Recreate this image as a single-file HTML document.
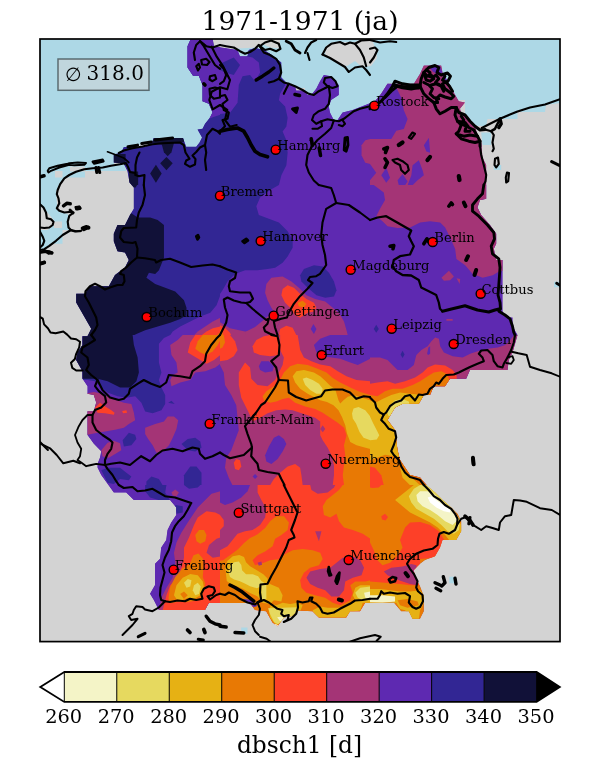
<!DOCTYPE html>
<html lang="de"><head><meta charset="utf-8"><title>1971-1971 (ja)</title>
<style>html,body{margin:0;padding:0;background:#fff}svg{display:block}text{font-family:"DejaVu Serif","Liberation Serif",serif;fill:#000}</style>
</head><body>
<svg width="600" height="780" viewBox="0 0 600 780">
<rect width="600" height="780" fill="#fff"/>
<defs><clipPath id="ax"><rect x="40" y="39" width="520" height="602.6"/></clipPath><clipPath id="de"><path d="M190.5 39.5 L187.5 46.2 L187.5 67.5 L193 75.8 L198.8 75.8 L202.5 85 L202.5 101.2 L208.8 103.8 L212.5 112.5 L210 117.5 L205 123.8 L202.5 128.8 L197.5 129.5 L202 137.5 L199.5 142.5 L196.2 146.8 L186.2 146.8 L183 138 L153.8 138 L152.5 141.2 L145 147 L123.8 147 L121.2 152.5 L113.8 154.5 L113.8 162.5 L123.8 163.8 L127.5 171.2 L129.5 182.5 L133.8 187.5 L133.8 208.8 L130 215 L125 225 L117.5 225 L113.8 233.8 L113.8 241.2 L117.5 251.2 L125 252.5 L128.8 260 L125 267.5 L115 275 L108.8 286.2 L90 286.2 L85 293.8 L76.2 293.8 L76.2 302.5 L81.2 311.2 L86.2 320 L91.2 328.8 L87.5 336.2 L82.5 336.2 L82.5 345 L77.5 352.5 L76.2 360 L82.5 371.2 L82.5 378.8 L87.5 386.2 L87.5 393.8 L93.8 395 L96.2 402.5 L93.8 411.2 L87.5 411.2 L87.5 435 L93.8 443.8 L101.2 451.2 L100 457.5 L97.5 463.8 L97.5 467.5 L101.2 475 L107.5 483.8 L113.8 492.5 L126.2 492.5 L133.8 500 L170 500 L176.2 507.5 L176.2 506.2 L176.2 515 L171.2 522.5 L167.5 530 L166.2 540 L161.2 547.5 L160 558.8 L155 563.8 L155 585 L150 593.8 L153.8 600 L158.8 610 L205 610 L208.8 603 L241.2 603 L248.8 603 L250 603 L255 610 L266.2 611.2 L272.5 622.5 L277.5 626.2 L283.8 617.5 L292 616 L298 610.5 L312.5 611.2 L318.8 617.5 L346.2 617.5 L350 611.2 L360 611.2 L365 603 L365 603 L393.8 602.5 L401.2 611.2 L408.8 611.2 L412.5 618.8 L420 618.8 L423.8 611.2 L423.8 596.2 L420 586.2 L415 577.5 L413.8 570 L420 563.8 L425 560 L435 556.2 L440 547.5 L442.5 540 L445 540 L456.2 540 L461.2 531.2 L461.2 521.2 L457.5 513.8 L451.2 507.5 L442.5 500 L435 492.5 L427.5 486.2 L420 477.5 L410 475 L405 467.5 L400 460 L397.5 450 L396.2 440 L395 430 L387.5 420 L391.2 413.8 L395 407.5 L402.5 403.8 L418.8 403.8 L423.8 395 L430 395 L433.8 386.2 L445 386.2 L450 378.8 L466.2 378.8 L470 370 L507.5 370 L508.8 360 L512.5 352.5 L515 343.8 L517.5 335 L512.5 326.2 L512.5 317.5 L506.2 317.5 L502.5 311.2 L502.5 260 L496.2 260 L493.8 248.8 L496.2 243.8 L496.2 233.8 L490 225 L481.2 215 L477.5 207.5 L480 200 L481.2 200 L486.2 198.8 L486.2 165 L482.5 157.5 L481.2 142.5 L477.5 135 L475 126.2 L467.5 117.5 L461.2 112.5 L460 108.8 L465 102.5 L458.8 101.2 L453.8 92.5 L450 85 L446.2 78.8 L442.5 72.5 L441.2 65.5 L423.8 65.5 L420 73.8 L413.8 83.8 L410 83.8 L387.5 83.8 L381.2 93.8 L375 101.2 L352.5 110 L342.5 112.5 L337.5 120 L333.8 120 L330 112.5 L328.8 106.2 L331.2 100 L338.8 95 L338.8 85 L336.2 82.5 L331.2 76.2 L323.8 75 L320 81.2 L316.2 88.8 L311.2 95 L307.5 95 L305 90.5 L296.2 90.5 L295 86.2 L287.5 83.8 L281.2 77.5 L281.2 62.5 L275 57.5 L270 53.8 L263.8 50 L255 48 L248.8 50 L247.5 56.2 L240 56.2 L237.5 50 L221.2 47.5 L213.8 46.2 L212.5 37.5 L190.5 37.5Z"/></clipPath></defs>
<g clip-path="url(#ax)">
<rect x="40" y="39" width="520" height="602.6" fill="#d3d3d3"/>
<path d="M40 39 L220 39 L220 150 L183 150 L183 141 L150 141 L125 150 L114 157 L114 164 L125 165 L126 171 L85 171 L85 177.5 L65 177.5 L58.8 185 L56 192 L57.5 210 L61 212.5 L67.5 213.8 L69.5 217.5 L67.5 222.5 L69.5 230 L62.5 230 L62.5 243.8 L50 243.8 L45 250 L40 250Z" fill="#add8e6"/>
<path d="M213 39 L560 39 L560 103 L546 105 L545 112 L517.5 112 L517.5 119 L487.5 119 L486 126 L465 126 L465 100 L400 100 L345 125 L325 125 L280 100 L250 65 L213 65Z" fill="#add8e6"/>
<path d="M481.2 132.5 L491.2 132.5 L491.2 145 L482.5 145Z" fill="#add8e6"/>
<path d="M493.8 165 L501.2 165 L501.2 170 L493.8 170Z" fill="#add8e6"/>
<path d="M449.3 576.7 L454 576.7 L454 583.3 L449.3 583.3Z" fill="#add8e6"/>
<path d="M554 281.7 L560 281.7 L560 287.3 L554 287.3Z" fill="#add8e6"/>
<path d="M241.2 627.5 L247.5 627.5 L247.5 633.8 L241.2 633.8Z" fill="#add8e6"/>
<path d="M40 205 L47.5 212.5 L53.8 220 L53.8 225 L47.5 230 L40 230Z" fill="#d3d3d3"/>
<path d="M55 171 L62.5 171 L62.5 177.5 L55 177.5Z" fill="#d3d3d3"/>
<path d="M70 166.5 L85 166.5 L85 171.5 L70 171.5Z" fill="#d3d3d3"/>
<path d="M54 221.5 L62 221.5 L62 228 L54 228Z" fill="#d3d3d3"/>
<path d="M213 39 L280 39 L280 48.5 L270 47.5 L262.5 44 L257.5 47.5 L213 50Z" fill="#d3d3d3"/>
<path d="M325 54 L326 46 L332 42.5 L355 42 L360 39.5 L372 39.5 L376 50 L377 58 L371 66 L362 67 L355 61 L347 66 L340 65 L332 60Z" fill="#d3d3d3"/>
<path d="M295 88 L305 88 L305 92 L295 92Z" fill="#d3d3d3"/>
<g clip-path="url(#de)">
<path d="M190.5 39.5 L187.5 46.2 L187.5 67.5 L193 75.8 L198.8 75.8 L202.5 85 L202.5 101.2 L208.8 103.8 L212.5 112.5 L210 117.5 L205 123.8 L202.5 128.8 L197.5 129.5 L202 137.5 L199.5 142.5 L196.2 146.8 L186.2 146.8 L183 138 L153.8 138 L152.5 141.2 L145 147 L123.8 147 L121.2 152.5 L113.8 154.5 L113.8 162.5 L123.8 163.8 L127.5 171.2 L129.5 182.5 L133.8 187.5 L133.8 208.8 L130 215 L125 225 L117.5 225 L113.8 233.8 L113.8 241.2 L117.5 251.2 L125 252.5 L128.8 260 L125 267.5 L115 275 L108.8 286.2 L90 286.2 L85 293.8 L76.2 293.8 L76.2 302.5 L81.2 311.2 L86.2 320 L91.2 328.8 L87.5 336.2 L82.5 336.2 L82.5 345 L77.5 352.5 L76.2 360 L82.5 371.2 L82.5 378.8 L87.5 386.2 L87.5 393.8 L93.8 395 L96.2 402.5 L93.8 411.2 L87.5 411.2 L87.5 435 L93.8 443.8 L101.2 451.2 L100 457.5 L97.5 463.8 L97.5 467.5 L101.2 475 L107.5 483.8 L113.8 492.5 L126.2 492.5 L133.8 500 L170 500 L176.2 507.5 L176.2 506.2 L176.2 515 L171.2 522.5 L167.5 530 L166.2 540 L161.2 547.5 L160 558.8 L155 563.8 L155 585 L150 593.8 L153.8 600 L158.8 610 L205 610 L208.8 603 L241.2 603 L248.8 603 L250 603 L255 610 L266.2 611.2 L272.5 622.5 L277.5 626.2 L283.8 617.5 L292 616 L298 610.5 L312.5 611.2 L318.8 617.5 L346.2 617.5 L350 611.2 L360 611.2 L365 603 L365 603 L393.8 602.5 L401.2 611.2 L408.8 611.2 L412.5 618.8 L420 618.8 L423.8 611.2 L423.8 596.2 L420 586.2 L415 577.5 L413.8 570 L420 563.8 L425 560 L435 556.2 L440 547.5 L442.5 540 L445 540 L456.2 540 L461.2 531.2 L461.2 521.2 L457.5 513.8 L451.2 507.5 L442.5 500 L435 492.5 L427.5 486.2 L420 477.5 L410 475 L405 467.5 L400 460 L397.5 450 L396.2 440 L395 430 L387.5 420 L391.2 413.8 L395 407.5 L402.5 403.8 L418.8 403.8 L423.8 395 L430 395 L433.8 386.2 L445 386.2 L450 378.8 L466.2 378.8 L470 370 L507.5 370 L508.8 360 L512.5 352.5 L515 343.8 L517.5 335 L512.5 326.2 L512.5 317.5 L506.2 317.5 L502.5 311.2 L502.5 260 L496.2 260 L493.8 248.8 L496.2 243.8 L496.2 233.8 L490 225 L481.2 215 L477.5 207.5 L480 200 L481.2 200 L486.2 198.8 L486.2 165 L482.5 157.5 L481.2 142.5 L477.5 135 L475 126.2 L467.5 117.5 L461.2 112.5 L460 108.8 L465 102.5 L458.8 101.2 L453.8 92.5 L450 85 L446.2 78.8 L442.5 72.5 L441.2 65.5 L423.8 65.5 L420 73.8 L413.8 83.8 L410 83.8 L387.5 83.8 L381.2 93.8 L375 101.2 L352.5 110 L342.5 112.5 L337.5 120 L333.8 120 L330 112.5 L328.8 106.2 L331.2 100 L338.8 95 L338.8 85 L336.2 82.5 L331.2 76.2 L323.8 75 L320 81.2 L316.2 88.8 L311.2 95 L307.5 95 L305 90.5 L296.2 90.5 L295 86.2 L287.5 83.8 L281.2 77.5 L281.2 62.5 L275 57.5 L270 53.8 L263.8 50 L255 48 L248.8 50 L247.5 56.2 L240 56.2 L237.5 50 L221.2 47.5 L213.8 46.2 L212.5 37.5 L190.5 37.5Z" fill="#5e29b1"/>
<svg x="70" y="35" width="150.3" height="150.3" viewBox="0 0 600 600" preserveAspectRatio="none">
<rect width="600" height="600" fill="#322694"/>
<path d="M460 0 L600 0 L600 318 L570 328 L540 340 L460 340Z" fill="#5e29b1"/>
<path d="M330 410 L455 410 L455 428 L400 428 L380 440 L330 430Z" fill="#111138"/>
<path d="M170 475 L222 475 L222 520 L170 520Z" fill="#111138"/>
<path d="M385 487 L410 512 L385 540 L360 512Z" fill="#111138"/>
<path d="M364 428 L416 428 L405 468 L390 484 L375 468Z" fill="#111138"/>
<path d="M343 518 L366 553 L343 590 L320 553Z" fill="#111138"/>
<path d="M235 545 L272 545 L272 600 L235 600Z" fill="#111138"/>
</svg>
<svg x="220" y="35" width="150.3" height="150.3" viewBox="0 0 600 600" preserveAspectRatio="none">
<rect width="600" height="600" fill="#5e29b1"/>
<path d="M0 315 L40 310 L70 270 L75 200 L90 165 L120 160 L140 185 L160 150 L155 110 L130 90 L105 85 L105 40 L260 40 L260 200 L240 235 L235 260 L260 285 L270 330 L265 365 L250 385 L265 420 L270 470 L265 520 L245 560 L235 600 L0 600Z" fill="#322694"/>
<path d="M0 115 L55 90 L80 120 L55 160 L20 150 L0 140Z" fill="#322694"/>
<path d="M600 415 L580 420 L565 440 L565 480 L580 510 L600 515Z" fill="#a43476"/>
</svg>
<svg x="370" y="35" width="150.3" height="150.3" viewBox="0 0 600 600" preserveAspectRatio="none">
<rect width="600" height="600" fill="#a43476"/>
<path d="M0 150 L65 190 L100 200 L125 250 L135 300 L150 335 L135 375 L105 382 L85 415 L0 415Z" fill="#5e29b1"/>
<path d="M235 125 L275 118 L290 150 L270 158 L250 145Z" fill="#5e29b1"/>
<path d="M290 160 L320 158 L318 185 L295 182Z" fill="#5e29b1"/>
<path d="M215 440 L235 410 L240 470 L225 465Z" fill="#5e29b1"/>
<path d="M170 520 L195 500 L210 540 L215 560 L190 580 L170 600 L150 600 L165 560Z" fill="#5e29b1"/>
<path d="M0 515 L25 550 L0 580Z" fill="#5e29b1"/>
<path d="M45 560 L65 530 L80 570 L65 590Z" fill="#5e29b1"/>
<path d="M110 580 L130 555 L150 585 L140 600 L115 600Z" fill="#5e29b1"/>
</svg>
<svg x="70" y="185" width="150.3" height="150.3" viewBox="0 0 600 600" preserveAspectRatio="none">
<rect width="600" height="600" fill="#322694"/>
<path d="M0 110 L240 110 L270 130 L320 130 L350 140 L375 160 L375 290 L355 340 L340 355 L315 350 L305 370 L340 395 L380 410 L420 425 L455 460 L465 490 L465 520 L440 535 L400 550 L350 565 L300 580 L265 595 L255 600 L0 600Z" fill="#111138"/>
<path d="M240 0 L268 0 L262 10 L246 10Z" fill="#111138"/>
<path d="M600 440 L585 480 L560 510 L520 525 L480 545 L440 565 L410 585 L400 600 L600 600Z" fill="#5e29b1"/>
<path d="M600 530 L570 545 L540 565 L510 585 L495 600 L600 600Z" fill="#a43476"/>
<path d="M600 565 L570 572 L545 585 L525 600 L600 600Z" fill="#fd4028"/>
<path d="M585 600 L600 588 L600 600Z" fill="#e87904"/>
</svg>
<svg x="220" y="185" width="150.3" height="150.3" viewBox="0 0 600 600" preserveAspectRatio="none">
<rect width="600" height="600" fill="#5e29b1"/>
<path d="M0 0 L235 0 L200 20 L160 50 L145 85 L155 120 L195 135 L235 150 L270 185 L290 220 L290 250 L270 285 L250 310 L220 330 L190 335 L150 340 L100 340 L60 355 L30 385 L10 420 L0 435Z" fill="#322694"/>
<path d="M320 360 L335 335 L375 320 L410 325 L435 350 L455 385 L465 420 L455 445 L420 450 L385 440 L350 410 L325 385Z" fill="#322694"/>
<path d="M180 430 L185 395 L205 370 L250 365 L285 385 L315 410 L345 440 L380 455 L420 465 L450 490 L475 510 L495 545 L505 580 L510 600 L235 600 L225 570 L240 545 L225 520 L205 490 L190 460Z" fill="#a43476"/>
<path d="M0 548 L40 572 L100 585 L150 592 L190 600 L0 600Z" fill="#a43476"/>
<path d="M100 587 L140 567 L173 540 L190 525 L225 520 L240 545 L225 570 L235 600 L100 600Z" fill="#a43476"/>
<path d="M245 440 L250 415 L270 400 L295 410 L320 435 L345 455 L375 470 L385 490 L375 505 L350 510 L320 530 L300 520 L280 490 L260 470Z" fill="#fd4028"/>
<path d="M310 470 L330 462 L345 475 L335 488 L315 485Z" fill="#e87904"/>
<path d="M235 600 L240 575 L265 562 L290 570 L305 600Z" fill="#fd4028"/>
<path d="M0 560 L20 570 L40 590 L45 600 L0 600Z" fill="#fd4028"/>
<path d="M0 575 L10 585 L12 600 L0 600Z" fill="#e87904"/>
<path d="M362 575 L373 555 L385 575 L375 595Z" fill="#5e29b1"/>
</svg>
<svg x="370" y="185" width="150.3" height="150.3" viewBox="0 0 600 600" preserveAspectRatio="none">
<rect width="600" height="600" fill="#5e29b1"/>
<path d="M15 0 L55 30 L60 60 L40 95 L25 125 L50 145 L70 165 L110 172 L160 170 L200 150 L240 145 L280 150 L300 170 L320 210 L340 255 L345 295 L380 320 L410 355 L450 370 L490 360 L515 345 L540 340 L600 340 L600 0Z" fill="#a43476"/>
<path d="M285 370 L315 342 L335 365 L320 380 L295 382Z" fill="#a43476"/>
<path d="M345 372 L360 375 L358 395Z" fill="#a43476"/>
<path d="M305 535 L330 535 L330 542 L305 542Z" fill="#a43476"/>
<path d="M15 575 L25 558 L35 575 L25 590Z" fill="#322694"/>
</svg>
<svg x="70" y="335" width="150.3" height="150.3" viewBox="0 0 600 600" preserveAspectRatio="none">
<rect width="600" height="600" fill="#5e29b1"/>
<path d="M0 0 L400 0 L375 12 L355 35 L355 110 L365 150 L355 180 L365 210 L380 240 L380 275 L365 300 L330 312 L300 305 L285 270 L260 245 L225 250 L190 245 L150 230 L120 205 L100 185 L70 180 L0 180Z" fill="#322694"/>
<path d="M0 0 L250 0 L255 40 L270 90 L275 150 L265 185 L240 210 L200 210 L150 185 L110 175 L50 175 L0 175Z" fill="#111138"/>
<path d="M600 0 L450 0 L430 20 L400 40 L405 80 L425 110 L430 150 L410 160 L400 180 L405 205 L440 190 L480 180 L500 150 L540 145 L580 130 L600 115Z" fill="#a43476"/>
<path d="M500 0 L480 30 L470 70 L495 85 L520 100 L545 115 L575 100 L600 80 L600 0Z" fill="#fd4028"/>
<path d="M530 0 L510 25 L500 55 L520 70 L545 80 L570 65 L590 40 L600 20 L600 0Z" fill="#e87904"/>
<path d="M60 235 L95 228 L130 235 L170 255 L215 270 L245 275 L255 310 L260 340 L235 355 L215 370 L180 378 L140 385 L100 392 L60 400Z" fill="#a43476"/>
<path d="M100 290 L120 270 L140 285 L165 300 L178 310 L175 318 L140 312 L110 310Z" fill="#fd4028"/>
<path d="M208 303 L225 300 L228 310 L212 312Z" fill="#fd4028"/>
<path d="M300 370 L340 355 L375 345 L390 325 L415 325 L432 340 L425 375 L410 410 L395 440 L370 465 L345 470 L330 440 L312 415 L300 395Z" fill="#a43476"/>
<path d="M125 460 L150 430 L175 422 L200 432 L205 460 L180 475 L155 490 L130 485Z" fill="#a43476"/>
<path d="M210 420 L235 390 L260 398 L265 415 L245 440 L215 445Z" fill="#322694"/>
<path d="M445 435 L470 415 L500 410 L520 425 L525 450 L500 465 L470 460Z" fill="#322694"/>
<path d="M392 270 L405 262 L418 275Z" fill="#322694"/>
<path d="M125 540 L150 530 L200 530 L225 550 L245 565 L235 580 L200 575 L175 595 L150 590Z" fill="#322694"/>
<path d="M305 585 L325 565 L355 575 L370 600 L305 600Z" fill="#322694"/>
<path d="M455 560 L480 525 L505 525 L525 550 L525 600 L455 600Z" fill="#322694"/>
</svg>
<svg x="220" y="335" width="150.3" height="150.3" viewBox="0 0 600 600" preserveAspectRatio="none">
<rect width="600" height="600" fill="#a43476"/>
<path d="M0 120 L15 150 L20 200 L45 240 L65 280 L70 330 L75 380 L60 420 L45 460 L25 490 L20 530 L35 570 L50 600 L0 600Z" fill="#5e29b1"/>
<path d="M375 40 L400 15 L440 0 L600 0 L600 95 L580 105 L550 120 L520 110 L480 95 L445 90 L410 85 L385 70Z" fill="#5e29b1"/>
<path d="M155 125 L165 105 L195 105 L215 125 L210 145 L180 150 L160 140Z" fill="#5e29b1"/>
<path d="M180 480 L195 445 L215 410 L235 400 L255 415 L265 435 L250 465 L230 495 L205 515 L185 505Z" fill="#5e29b1"/>
<path d="M130 565 L140 555 L150 565 L140 575Z" fill="#5e29b1"/>
<path d="M0 0 L40 0 L60 25 L70 60 L55 85 L30 100 L0 105Z" fill="#fd4028"/>
<path d="M0 0 L15 0 L20 30 L10 50 L0 55Z" fill="#e87904"/>
<path d="M130 45 L145 20 L175 5 L200 0 L235 0 L240 40 L235 80 L200 85 L160 80 L135 70Z" fill="#fd4028"/>
<path d="M240 0 L310 0 L315 30 L320 60 L335 90 L365 105 L400 118 L440 125 L470 145 L505 165 L545 180 L600 185 L600 600 L450 600 L455 560 L455 520 L445 480 L430 450 L410 420 L400 400 L400 345 L380 330 L350 320 L320 310 L290 300 L260 297 L225 300 L190 312 L160 330 L130 345 L115 310 L100 280 L85 250 L75 200 L75 150 L100 110 L120 130 L125 175 L150 200 L190 205 L220 180 L235 150 L250 120 L255 90 L240 60Z" fill="#fd4028"/>
<path d="M170 245 L185 225 L215 205 L240 180 L255 150 L280 125 L310 115 L350 120 L390 135 L425 150 L450 172 L480 190 L520 210 L560 228 L600 240 L600 600 L495 600 L490 560 L495 520 L500 480 L495 440 L505 400 L495 370 L470 350 L440 330 L410 310 L380 295 L340 285 L300 270 L275 250 L250 255 L225 265 L200 270 L175 260Z" fill="#e87904"/>
<path d="M290 165 L305 145 L335 140 L375 150 L400 165 L420 183 L440 203 L460 217 L473 260 L480 273 L493 260 L510 247 L533 240 L567 250 L600 260 L600 455 L570 447 L545 440 L520 427 L507 393 L500 360 L487 327 L473 300 L453 280 L427 267 L400 260 L380 250 L350 235 L320 215 L300 190Z" fill="#e6b114"/>
<path d="M330 175 L345 170 L370 180 L395 195 L410 215 L405 235 L385 235 L360 220 L340 200Z" fill="#e6d95f"/>
<path d="M527 313 L533 293 L553 287 L580 300 L600 325 L600 420 L573 410 L557 387 L543 353 L530 333Z" fill="#e6d95f"/>
<path d="M400 375 L410 360 L420 375 L410 388Z" fill="#a43476"/>
<path d="M55 510 L65 495 L80 500 L85 525 L75 540 L60 535Z" fill="#fd4028"/>
<path d="M200 600 L215 575 L240 550 L270 525 L300 515 L320 530 L325 560 L330 600Z" fill="#fd4028"/>
</svg>
<svg x="370" y="335" width="150.3" height="150.3" viewBox="0 0 600 600" preserveAspectRatio="none">
<rect width="600" height="600" fill="#5e29b1"/>
<path d="M0 90 L40 90 L70 100 L95 125 L110 140 L150 140 L175 120 L185 80 L205 60 L230 45 L245 25 L260 10 L275 15 L280 45 L295 70 L330 85 L370 90 L400 75 L430 65 L470 55 L510 50 L540 40 L560 20 L575 0 L600 0 L600 600 L0 600Z" fill="#a43476"/>
<path d="M228 75 L233 50 L240 45 L240 75 L232 80Z" fill="#5e29b1"/>
<path d="M122 78 L130 63 L138 78 L130 92Z" fill="#322694"/>
<path d="M0 195 L30 190 L70 185 L100 195 L140 185 L180 170 L210 150 L230 130 L260 118 L300 122 L330 140 L345 160 L350 200 L600 200 L600 600 L0 600Z" fill="#fd4028"/>
<path d="M0 240 L30 245 L60 225 L90 215 L130 215 L170 200 L200 185 L230 165 L255 150 L285 145 L305 155 L315 175 L320 200 L600 200 L600 600 L0 600Z" fill="#e87904"/>
<path d="M0 262 L25 268 L50 255 L85 240 L120 230 L160 235 L220 240 L220 300 L130 480 L100 490 L60 480 L30 495 L0 500Z" fill="#e6b114"/>
<path d="M100 260 L130 255 L155 265 L160 290 L110 300 L100 325 L75 325 L65 300 L85 275Z" fill="#e6d95f"/>
<path d="M0 325 L13 353 L27 380 L37 400 L27 417 L0 420Z" fill="#e6d95f"/>
<path d="M0 500 L30 490 L60 478 L100 485 L130 500 L200 600 L0 600Z" fill="#e87904"/>
<path d="M0 525 L20 530 L45 560 L55 600 L0 600Z" fill="#fd4028"/>
<path d="M120 530 L150 555 L200 600 L160 600 L130 570Z" fill="#e6b114"/>
</svg>
<svg x="70" y="485" width="150.3" height="150.3" viewBox="0 0 600 600" preserveAspectRatio="none">
<rect width="600" height="600" fill="#5e29b1"/>
<path d="M300 0 L300 25 L320 50 L360 62 L400 62 L380 30 L385 0Z" fill="#322694"/>
<path d="M420 80 L450 85 L450 110 L425 115Z" fill="#322694"/>
<path d="M455 0 L475 15 L510 10 L520 0Z" fill="#322694"/>
<path d="M405 30 L420 18 L435 30 L425 45 L410 42Z" fill="#a43476"/>
<path d="M355 500 L365 450 L385 410 L410 370 L420 310 L415 270 L425 230 L445 190 L470 150 L490 120 L510 90 L540 60 L565 35 L600 25 L600 600 L355 600Z" fill="#a43476"/>
<path d="M370 500 L385 440 L400 400 L430 370 L445 330 L455 290 L455 250 L475 210 L495 160 L510 130 L545 105 L580 110 L600 120 L600 600 L370 600Z" fill="#fd4028"/>
<path d="M545 270 L555 240 L585 215 L600 210 L600 285 L570 290Z" fill="#a43476"/>
<path d="M500 200 L515 180 L535 180 L545 200 L540 225 L520 235 L505 225Z" fill="#e87904"/>
<path d="M393 452 L400 407 L420 367 L447 335 L478 315 L493 280 L513 273 L530 293 L533 327 L530 367 L540 393 L533 420 L527 447 L500 462 L467 468 L433 466 L400 472Z" fill="#e87904"/>
<path d="M415 440 L425 400 L450 370 L480 355 L510 360 L530 385 L535 410 L520 440 L495 455 L470 450 L445 460 L425 455Z" fill="#e6b114"/>
<path d="M455 390 L470 375 L485 380 L480 405 L465 410Z" fill="#e6d95f"/>
<path d="M495 400 L510 390 L522 405 L515 435 L500 440 L490 420Z" fill="#e6d95f"/>
<path d="M440 435 L455 425 L470 440 L455 455Z" fill="#e87904"/>
</svg>
<svg x="220" y="485" width="150.3" height="150.3" viewBox="0 0 600 600" preserveAspectRatio="none">
<rect width="600" height="600" fill="#fd4028"/>
<path d="M0 0 L150 0 L150 30 L165 60 L185 95 L180 130 L160 160 L130 180 L100 185 L70 195 L50 220 L30 245 L0 260Z" fill="#a43476"/>
<path d="M0 0 L120 0 L110 25 L85 50 L50 70 L20 80 L0 70Z" fill="#5e29b1"/>
<path d="M0 120 L15 140 L15 165 L0 180Z" fill="#fd4028"/>
<path d="M360 0 L365 20 L390 35 L430 30 L455 10 L460 0Z" fill="#a43476"/>
<path d="M380 185 L405 185 L395 225Z" fill="#a43476"/>
<path d="M410 85 L425 60 L450 40 L475 20 L490 0 L600 0 L600 215 L570 195 L530 180 L495 170 L475 145 L465 115 L440 130 L415 120Z" fill="#e87904"/>
<path d="M0 302 L12 300 L40 280 L72 256 L96 232 L120 212 L150 197 L180 172 L200 145 L225 125 L255 125 L275 150 L270 180 L245 200 L220 215 L210 245 L180 265 L150 280 L130 300 L140 320 L175 310 L200 300 L240 295 L260 275 L290 260 L330 255 L370 260 L400 270 L410 295 L395 320 L360 330 L335 350 L320 380 L325 410 L345 430 L380 440 L420 450 L450 470 L480 480 L520 460 L530 430 L520 400 L540 385 L580 385 L600 380 L600 600 L0 600Z" fill="#e87904"/>
<path d="M150 310 L165 305 L168 318 L155 322Z" fill="#a43476"/>
<path d="M345 370 L360 345 L400 335 L440 330 L465 310 L490 290 L530 285 L560 300 L575 330 L565 360 L530 370 L500 385 L495 420 L475 445 L445 445 L420 420 L390 410 L360 395Z" fill="#a43476"/>
<path d="M24 356 L21 329 L29 303 L51 284 L77 279 L96 287 L104 308 L120 324 L147 340 L173 356 L189 372 L195 393 L235 410 L250 440 L245 465 L215 460 L200 475 L170 470 L150 445 L120 431 L93 415 L67 404 L40 393 L27 383Z" fill="#e6b114"/>
<path d="M35 351 L40 324 L56 308 L75 305 L85 319 L88 340 L104 356 L131 356 L152 364 L165 383 L185 395 L185 455 L165 455 L165 404 L147 412 L120 404 L99 393 L77 383 L56 377 L40 367Z" fill="#e6d95f"/>
<path d="M195 500 L200 530 L225 560 L250 545 L275 535 L300 525 L320 505 L330 480 L310 470 L280 475 L250 470 L225 480 L205 475Z" fill="#e6b114"/>
<path d="M192 492 L304 488 L312 504 L288 528 L256 532 L232 556 L216 548 L200 516Z" fill="#e6d95f"/>
<path d="M228 528 L280 520 L272 536 L240 544Z" fill="#f4f4c7"/>
<path d="M218 554 L232 560 L224 568Z" fill="#ffffff"/>
<path d="M92 455 L120 458 L150 482 L135 488 L110 474Z" fill="#5e29b1"/>
<path d="M370 500 L375 520 L400 530 L500 530 L520 510 L560 500 L570 470 L600 470 L600 400 L560 400 L540 410 L530 440 L540 460 L510 480 L470 490 L430 490 L400 485Z" fill="#e6b114"/>
<path d="M540 430 L560 410 L600 405 L600 460 L570 460 L550 450Z" fill="#e6d95f"/>
<path d="M575 430 L600 425 L600 455 L580 450Z" fill="#f4f4c7"/>
</svg>
<svg x="370" y="485" width="150.3" height="150.3" viewBox="0 0 600 600" preserveAspectRatio="none">
<rect width="600" height="600" fill="#e87904"/>
<path d="M0 0 L45 0 L35 10 L10 12 L0 10Z" fill="#fd4028"/>
<path d="M45 125 L60 115 L72 128 L62 142 L48 138Z" fill="#fd4028"/>
<path d="M120 220 L140 170 L160 150 L200 148 L240 160 L275 185 L300 225 L280 260 L260 290 L200 295 L200 400 L160 400 L120 395 L60 390 L0 385 L0 230 L15 260 L30 300 L50 320 L80 310 L110 280 L130 250Z" fill="#fd4028"/>
<path d="M55 345 L85 330 L130 325 L165 315 L185 320 L190 360 L190 400 L160 395 L130 385 L100 375 L70 360Z" fill="#a43476"/>
<path d="M100 60 L125 40 L150 20 L175 0 L260 0 L365 160 L365 190 L345 220 L320 225 L300 200 L270 170 L240 150 L200 130 L160 110 L130 85Z" fill="#e6b114"/>
<path d="M155 45 L175 15 L200 0 L270 0 L360 140 L355 180 L335 195 L310 185 L285 160 L255 135 L220 115 L185 95 L165 70Z" fill="#e6d95f"/>
<path d="M185 40 L200 25 L230 25 L260 40 L300 80 L340 110 L350 140 L330 160 L300 145 L270 120 L240 100 L210 85 L190 65Z" fill="#f4f4c7"/>
<path d="M230 50 L245 45 L270 65 L300 85 L320 100 L320 110 L295 105 L265 90 L240 70Z" fill="#ffffff"/>
<path d="M0 415 L40 415 L80 420 L120 425 L160 425 L200 420 L215 440 L215 470 L200 500 L195 535 L165 535 L140 500 L120 495 L105 470 L0 470Z" fill="#e6b114"/>
<path d="M0 440 L50 440 L100 445 L100 465 L50 470 L0 468Z" fill="#f4f4c7"/>
<path d="M110 460 L150 455 L190 465 L195 480 L150 490 L120 480Z" fill="#e87904"/>
</svg>
</g>
<path d="M135 173 L130 172 L128 167 L126 163 L120 164.3 L111 165.8 L102.7 167.5 L92.7 168.3 L84.3 169.2 L76 171.7 L69.3 175 L64.3 178.3 L60.2 184.2 L57.7 190 L56.8 194.2 L58.5 198.3 L59.3 203.3 L56.8 208.3 L59.3 210.8 L64.3 212.5 L71 211.7 L73.5 212.5 L69.3 215.8 L67.7 221.7 L68.5 227.5 L71 230 L76 231.3 L80.2 231.3" fill="none" stroke="#000" stroke-width="2.13" stroke-linejoin="round" stroke-linecap="round"/>
<path d="M71 230 L62.7 235 L56 240.8 L49.3 245.8 L44.3 249.2 L40 250" fill="none" stroke="#000" stroke-width="2.13" stroke-linejoin="round" stroke-linecap="round"/>
<path d="M40 204.2 L43.5 207.5 L46 212.5 L46.8 218.3 L51 219.2 L53.5 221.7 L52.7 225 L49.3 227.5 L44.3 228 L40 227.5" fill="none" stroke="#000" stroke-width="2.13" stroke-linejoin="round" stroke-linecap="round"/>
<path d="M40 231.7 L42.7 236.7 L44.3 240.8 L42.7 245 L40 247.5" fill="none" stroke="#000" stroke-width="2.13" stroke-linejoin="round" stroke-linecap="round"/>
<path d="M63.5 205.8 L66.8 203.3 L70.2 203.7" fill="none" stroke="#000" stroke-width="3.55" stroke-linejoin="round" stroke-linecap="round"/>
<path d="M82.7 228.3 L86 227 L88.5 227.7" fill="none" stroke="#000" stroke-width="3.976" stroke-linejoin="round" stroke-linecap="round"/>
<path d="M96 167.5 L96.8 172.5" fill="none" stroke="#000" stroke-width="3.124" stroke-linejoin="round" stroke-linecap="round"/>
<path d="M98.5 167.5 L99.7 172.5" fill="none" stroke="#000" stroke-width="3.124" stroke-linejoin="round" stroke-linecap="round"/>
<path d="M40.3 263.7 L44.3 262.5" fill="none" stroke="#000" stroke-width="3.55" stroke-linejoin="round" stroke-linecap="round"/>
<path d="M40.3 176.7 L44 175.8" fill="none" stroke="#000" stroke-width="3.55" stroke-linejoin="round" stroke-linecap="round"/>
<path d="M195 60 L193.8 52.5 L196.2 45 L200 41.2 L206.2 46.2 L212.5 47.5 L220 45" fill="none" stroke="#000" stroke-width="2.13" stroke-linejoin="round" stroke-linecap="round"/>
<path d="M200 41.2 L203.8 46.2 L207.5 52.5 L211.2 58.8 L215 65 L220 68.8" fill="none" stroke="#000" stroke-width="2.13" stroke-linejoin="round" stroke-linecap="round"/>
<path d="M203.8 83.8 L205 85" fill="none" stroke="#000" stroke-width="3.55" stroke-linejoin="round" stroke-linecap="round"/>
<path d="M128 146.8 L137.5 145.2" fill="none" stroke="#000" stroke-width="3.124" stroke-linejoin="round" stroke-linecap="round"/>
<path d="M141.8 143.5 L151.2 142" fill="none" stroke="#000" stroke-width="3.124" stroke-linejoin="round" stroke-linecap="round"/>
<path d="M155.5 140 L163.8 139 L172.5 138" fill="none" stroke="#000" stroke-width="3.124" stroke-linejoin="round" stroke-linecap="round"/>
<path d="M107.5 151.8 L116.2 155 L123.8 158 L128.8 162.5" fill="none" stroke="#000" stroke-width="1.704" stroke-linejoin="round" stroke-linecap="round"/>
<path d="M118.8 153 L123.8 150.5 L132.5 148.2 L142.5 146.5 L152.5 144.2 L162.5 143.2 L180 142.5 L183.8 145 L185.5 152.5 L189.5 158.8 L186.2 160.5 L185 163.8 L190 166.8 L195 164.5 L195.5 159.2 L192.5 155.5 L196.2 152 L200 147.5 L205 145 L206.2 152.5 L205 160 L206.2 170" fill="none" stroke="#000" stroke-width="2.13" stroke-linejoin="round" stroke-linecap="round"/>
<path d="M205 145 L207 135 L212.5 128.8 L217.5 131.2 L220 133.8" fill="none" stroke="#000" stroke-width="2.13" stroke-linejoin="round" stroke-linecap="round"/>
<path d="M139.5 152.5 L137 157.5 L135.5 165 L135.5 175" fill="none" stroke="#000" stroke-width="2.13" stroke-linejoin="round" stroke-linecap="round"/>
<path d="M220 45 L226.2 46.2 L233.8 47.5 L240 51.2 L245 53.8 L250 52 L255 48.8 L258.8 45" fill="none" stroke="#000" stroke-width="2.13" stroke-linejoin="round" stroke-linecap="round"/>
<path d="M258.8 45 L263.8 52.5 L270 55 L276.2 58.8 L280 65 L281.2 72.5 L278.8 78.8 L273.8 81.2 L268.8 82.5" fill="none" stroke="#000" stroke-width="2.13" stroke-linejoin="round" stroke-linecap="round"/>
<path d="M256.2 80 L262.5 76.2 L268.8 72 L273.8 68" fill="none" stroke="#000" stroke-width="3.408" stroke-linejoin="round" stroke-linecap="round"/>
<path d="M278.8 78.8 L283.8 82.5 L288.8 83.8 L286.2 88.8 L283.8 93.8" fill="none" stroke="#000" stroke-width="2.13" stroke-linejoin="round" stroke-linecap="round"/>
<path d="M288.8 83.8 L295 86.2 L302.5 90 L308.8 93.8 L313.8 95 L318.8 91.2 L323.8 88.8 L328.8 86.2" fill="none" stroke="#000" stroke-width="2.13" stroke-linejoin="round" stroke-linecap="round"/>
<path d="M328.8 86.2 L330 95 L328.8 103.8 L325 108.8 L318.8 111.2 L313.8 115 L312 120 L316.2 123.8 L321.2 121.2 L327.5 119.2 L333.8 120.5" fill="none" stroke="#000" stroke-width="2.13" stroke-linejoin="round" stroke-linecap="round"/>
<path d="M321.2 121.2 L322 126.2 L317.5 128.8 L312.5 128.8" fill="none" stroke="#000" stroke-width="2.13" stroke-linejoin="round" stroke-linecap="round"/>
<path d="M333.8 120.5 L338.8 121.2 L343.8 118.8 L348.8 115 L353.8 111.2 L360 108.8 L370 106.2" fill="none" stroke="#000" stroke-width="2.13" stroke-linejoin="round" stroke-linecap="round"/>
<path d="M342.5 120 L345 123.8 L342.5 126.2 L338.8 125" fill="none" stroke="#000" stroke-width="2.13" stroke-linejoin="round" stroke-linecap="round"/>
<path d="M333.8 120.5 L331.2 128 L325 133.8 L317.5 140 L311.2 147.5 L307.5 155 L306.2 165 L308.8 172.5 L313.8 180.5 L318.8 185" fill="none" stroke="#000" stroke-width="2.13" stroke-linejoin="round" stroke-linecap="round"/>
<path d="M220 131.2 L227.5 129.5 L237.5 128 L243.8 131.2 L247.5 137.5 L251.2 145 L255 151.2 L260 154.5 L267.5 156.8" fill="none" stroke="#000" stroke-width="3.692" stroke-linejoin="round" stroke-linecap="round"/>
<path d="M220 65 L223.8 68.8 L226.2 75 L223.8 81.2 L220 83.8" fill="none" stroke="#000" stroke-width="2.13" stroke-linejoin="round" stroke-linecap="round"/>
<path d="M220 96.2 L225 95 L227.5 100 L222.5 103.8 L223.8 110 L228.8 112.5 L227.5 118.8 L222.5 120 L225 126.2 L220 131.2" fill="none" stroke="#000" stroke-width="2.13" stroke-linejoin="round" stroke-linecap="round"/>
<path d="M295 94.5 L299.5 95.5" fill="none" stroke="#000" stroke-width="3.55" stroke-linejoin="round" stroke-linecap="round"/>
<path d="M311.2 138.8 L312.5 145" fill="none" stroke="#000" stroke-width="3.55" stroke-linejoin="round" stroke-linecap="round"/>
<path d="M319.2 148 L320.5 155.5" fill="none" stroke="#000" stroke-width="3.55" stroke-linejoin="round" stroke-linecap="round"/>
<path d="M286.2 41.2 L291.2 43.8 L295 50 L300 53" fill="none" stroke="#000" stroke-width="2.84" stroke-linejoin="round" stroke-linecap="round"/>
<path d="M305 53 L307.5 47.5 L311.2 42.5 L316.2 40" fill="none" stroke="#000" stroke-width="2.13" stroke-linejoin="round" stroke-linecap="round"/>
<path d="M307.5 53 L309.5 60" fill="none" stroke="#000" stroke-width="2.13" stroke-linejoin="round" stroke-linecap="round"/>
<path d="M322.5 54.5 L326.2 47.5 L331.2 43.8 L340 42 L345 44.5 L350 42.5 L355 43.8 L361.2 40.5 L370 40" fill="none" stroke="#000" stroke-width="2.13" stroke-linejoin="round" stroke-linecap="round"/>
<path d="M322.5 54.5 L330 58 L337.5 62.5 L345 67 L348.8 72 L355 67.5 L362.5 66.2 L366.2 70 L370 75" fill="none" stroke="#000" stroke-width="2.13" stroke-linejoin="round" stroke-linecap="round"/>
<path d="M355 43.8 L360 50 L363.8 57.5 L366.2 66.2" fill="none" stroke="#000" stroke-width="2.13" stroke-linejoin="round" stroke-linecap="round"/>
<path d="M370 48.8 L375 47.5 L377.5 50 L373.8 57.5 L370 62.5" fill="none" stroke="#000" stroke-width="2.13" stroke-linejoin="round" stroke-linecap="round"/>
<path d="M370 40 L380 42.5 L390 41.2 L396.2 42" fill="none" stroke="#000" stroke-width="2.13" stroke-linejoin="round" stroke-linecap="round"/>
<path d="M370 108.8 L375 106.2 L381.2 101.2 L387.5 93.8 L392.5 86.2 L395 81.2 L402.5 83.8 L410 85 L420 85" fill="none" stroke="#000" stroke-width="2.982" stroke-linejoin="round" stroke-linecap="round"/>
<path d="M385 97.5 L391.2 91.2 L397.5 86.2 L407.5 87 L418.8 88" fill="none" stroke="#000" stroke-width="2.982" stroke-linejoin="round" stroke-linecap="round"/>
<path d="M393.8 85 L402.5 87.5 L411.2 88.8 L420 87" fill="none" stroke="#000" stroke-width="3.408" stroke-linejoin="round" stroke-linecap="round"/>
<path d="M420 86.2 L421.2 78.8 L423.8 72.5 L428.8 67.5 L435 65.5 L438.8 67.5 L437 72.5 L441.2 75 L447.5 73 L450.5 76.2 L448 81.2 L442.5 83.8 L445 88.8 L450 92.5 L453.8 96.2 L451.2 98.8 L445 97 L440 95 L436.2 98.8 L437.5 102.5" fill="none" stroke="#000" stroke-width="2.982" stroke-linejoin="round" stroke-linecap="round"/>
<path d="M431.2 85 L436.2 83.8 L441.2 86.2 L443.8 91.2" fill="none" stroke="#000" stroke-width="2.982" stroke-linejoin="round" stroke-linecap="round"/>
<path d="M420 86.2 L423.8 93.8 L428.8 98.8 L433.8 102.5 L437.5 102.5" fill="none" stroke="#000" stroke-width="2.982" stroke-linejoin="round" stroke-linecap="round"/>
<path d="M433.8 102.5 L436.2 108.8 L440 113.8 L445 111.2 L451.2 107.5 L456.2 107.5" fill="none" stroke="#000" stroke-width="2.982" stroke-linejoin="round" stroke-linecap="round"/>
<path d="M456.2 107.5 L458.8 112.5 L465 115 L470 121.2 L475 126.2 L480 130 L485 129.5" fill="none" stroke="#000" stroke-width="2.982" stroke-linejoin="round" stroke-linecap="round"/>
<path d="M456.2 107.5 L455 115 L457.5 121.2 L461.2 125" fill="none" stroke="#000" stroke-width="2.982" stroke-linejoin="round" stroke-linecap="round"/>
<path d="M457.5 121.2 L465 122.5 L468.8 127.5 L473.8 130" fill="none" stroke="#000" stroke-width="2.982" stroke-linejoin="round" stroke-linecap="round"/>
<path d="M461.2 125 L458.8 131.2 L456.2 133.8 L463.8 136.2 L470 135 L477.5 136.2" fill="none" stroke="#000" stroke-width="2.982" stroke-linejoin="round" stroke-linecap="round"/>
<path d="M456.2 133.8 L461.2 138.8 L468.8 141.2 L475 142.5 L480 141.2" fill="none" stroke="#000" stroke-width="2.982" stroke-linejoin="round" stroke-linecap="round"/>
<path d="M473.8 130 L477.5 136.2 L480 141.2 L480 146.2" fill="none" stroke="#000" stroke-width="2.982" stroke-linejoin="round" stroke-linecap="round"/>
<path d="M481.8 128 L490 123.8 L500 118.8 L510 114.5 L516.8 111.8 L530 107.5 L545 104.5 L560 99.2" fill="none" stroke="#000" stroke-width="2.13" stroke-linejoin="round" stroke-linecap="round"/>
<path d="M485 129.5 L491.2 131.2 L493.8 135 L492.5 142.5 L493.8 148.8 L492.5 151.2" fill="none" stroke="#000" stroke-width="2.13" stroke-linejoin="round" stroke-linecap="round"/>
<path d="M500 118.8 L501.2 123.8 L498.8 127.5" fill="none" stroke="#000" stroke-width="3.408" stroke-linejoin="round" stroke-linecap="round"/>
<path d="M480 146.2 L481.2 155 L483.8 165 L486.2 175 L485.5 181.2 L483.8 185" fill="none" stroke="#000" stroke-width="2.13" stroke-linejoin="round" stroke-linecap="round"/>
<path d="M398.8 145 L402.5 142.5" fill="none" stroke="#000" stroke-width="4.26" stroke-linejoin="round" stroke-linecap="round"/>
<path d="M383.8 148.8 L387.5 147.5 L385.5 152.5" fill="none" stroke="#000" stroke-width="3.55" stroke-linejoin="round" stroke-linecap="round"/>
<path d="M385 158.8 L387.5 162.5 L385 167.5" fill="none" stroke="#000" stroke-width="3.55" stroke-linejoin="round" stroke-linecap="round"/>
<path d="M427.5 160 L430 157" fill="none" stroke="#000" stroke-width="4.26" stroke-linejoin="round" stroke-linecap="round"/>
<path d="M458.8 176.2 L459.5 180" fill="none" stroke="#000" stroke-width="4.26" stroke-linejoin="round" stroke-linecap="round"/>
<path d="M551.7 161.7 L559.3 165.3" fill="none" stroke="#000" stroke-width="3.124" stroke-linejoin="round" stroke-linecap="round"/>
<path d="M135.5 175 L138.8 176.2 L144.5 175 L143.8 185" fill="none" stroke="#000" stroke-width="2.13" stroke-linejoin="round" stroke-linecap="round"/>
<path d="M143.8 185 L145 195 L142.5 205 L138.8 212.5 L137 220 L136.2 227.5 L123.8 228 L121.2 231.2 L120 237.5 L123.8 242 L132.5 243 L135.5 242 L137.5 248.8 L137 257.5 L131.2 262.5 L126.2 267.5 L121.2 271.2 L120 273.8 L123.8 275 L124.5 281.2 L122.5 285 L117.5 285 L110 287.5 L105 289.5 L100 286.2 L95 283.8 L90 286.2 L85.5 291.2 L85 296.2 L88.8 302.5 L92.5 310 L96.2 317.5 L97.5 325 L95 330 L91.2 335" fill="none" stroke="#000" stroke-width="2.13" stroke-linejoin="round" stroke-linecap="round"/>
<path d="M137 257.5 L145 258.2 L155 260 L156.2 262.5 L161.2 260 L170 258.8 L180 262.5 L191.2 267 L202.5 265.5 L212.5 264.5 L220 266.2" fill="none" stroke="#000" stroke-width="2.13" stroke-linejoin="round" stroke-linecap="round"/>
<path d="M70 230 L75 231.5 L81.2 230.8" fill="none" stroke="#000" stroke-width="2.13" stroke-linejoin="round" stroke-linecap="round"/>
<path d="M83.8 229.5 L88 227.5" fill="none" stroke="#000" stroke-width="3.55" stroke-linejoin="round" stroke-linecap="round"/>
<path d="M70 210 L73 213" fill="none" stroke="#000" stroke-width="2.84" stroke-linejoin="round" stroke-linecap="round"/>
<path d="M318.8 185 L325 186.5 L331.2 188 L333.8 195 L336.2 203" fill="none" stroke="#000" stroke-width="2.13" stroke-linejoin="round" stroke-linecap="round"/>
<path d="M336.2 203 L348.8 205 L360 212.5 L370 220" fill="none" stroke="#000" stroke-width="2.13" stroke-linejoin="round" stroke-linecap="round"/>
<path d="M336.2 203 L326.2 208.8 L322.5 222.5 L321.2 235 L322.5 245 L325 255 L326.2 265 L320 273.8 L316.2 276.2 L310 277 L308 280 L312.5 283 L307.5 288.8 L300 296.2 L293.8 303.8 L288.8 312.5 L287 317.5 L281.2 318.8 L273.8 321.2 L275 327.5 L277.5 335" fill="none" stroke="#000" stroke-width="2.13" stroke-linejoin="round" stroke-linecap="round"/>
<path d="M220 266.2 L227.5 269.5 L236.2 272.5 L235 278 L230 281.2 L228.8 286.2 L230 291.2 L240 292.5 L250 292.5 L253 298.8 L250 302 L246.2 303 L241.2 302.5 L233.8 300.5 L227.5 297.5 L223.8 299.5 L225 307.5 L227.5 315 L226.2 322.5 L222.5 330 L220 335" fill="none" stroke="#000" stroke-width="2.13" stroke-linejoin="round" stroke-linecap="round"/>
<path d="M246.2 303 L252.5 308.8 L260 315 L266.2 320 L268.8 318.8 L267.5 323.8 L263.8 327.5 L265 331.2 L270 333.8 L273.8 335" fill="none" stroke="#000" stroke-width="2.13" stroke-linejoin="round" stroke-linecap="round"/>
<path d="M370 220 L377.5 217.5 L386.2 216.2 L395 221.2 L403.8 226.2 L411.2 230.5 L408.8 236.2 L411.2 241.2 L413.8 246.2 L410 254.5 L400 256.2 L393.8 260 L392.5 266.2 L396.2 271.2 L402.5 275 L411.2 275.5 L418.8 280 L421.2 287.5 L428.8 291.2 L436.2 295 L438.8 302.5 L440 308.8 L442.5 311.2" fill="none" stroke="#000" stroke-width="2.272" stroke-linejoin="round" stroke-linecap="round"/>
<path d="M442.5 311.2 L452.5 308.8 L465 305.8 L470 307.5 L477.5 310 L488.8 312 L495 310 L500 308.8" fill="none" stroke="#000" stroke-width="3.124" stroke-linejoin="round" stroke-linecap="round"/>
<path d="M483.8 185 L482.5 193.8 L477.5 198.8 L472.5 205 L472.5 211.2 L478.8 216.2 L487.5 225 L493.8 232.5 L494.5 238.8 L491.2 246.2 L492.5 253.8 L498.8 258.8 L500 267.5 L499.5 275 L498.8 285 L498 295 L500 302.5 L500.5 308.8 L498.8 311.2 L505 315 L510 318.8 L512.5 326.2 L513.8 332.5 L515 335" fill="none" stroke="#000" stroke-width="2.84" stroke-linejoin="round" stroke-linecap="round"/>
<path d="M448.8 206.2 L451.2 203 L452.5 204.5" fill="none" stroke="#000" stroke-width="3.55" stroke-linejoin="round" stroke-linecap="round"/>
<path d="M463.8 202.5 L465.5 206.2" fill="none" stroke="#000" stroke-width="3.976" stroke-linejoin="round" stroke-linecap="round"/>
<path d="M466.2 260 L468 256.2" fill="none" stroke="#000" stroke-width="3.976" stroke-linejoin="round" stroke-linecap="round"/>
<path d="M474.5 275 L476.2 270" fill="none" stroke="#000" stroke-width="3.976" stroke-linejoin="round" stroke-linecap="round"/>
<path d="M423.8 243.8 L427 238.8 L428.8 242" fill="none" stroke="#000" stroke-width="3.55" stroke-linejoin="round" stroke-linecap="round"/>
<path d="M390 246.2 L393.8 245.5 L393 248.8" fill="none" stroke="#000" stroke-width="3.55" stroke-linejoin="round" stroke-linecap="round"/>
<path d="M91.2 335 L95 340 L88.8 343.8 L82.5 347.5 L81.2 352.5 L87.5 357.5 L88.8 365 L86.2 370 L91.2 375 L97.5 380 L95 386.2 L98.8 391.2 L105 396.2 L106.2 402.5 L101.2 407.5 L95 410 L92.5 415 L92.5 422.5 L96.2 430 L102.5 435 L110 440 L112.5 442.5 L111.2 448.8 L107.5 453.8 L105 460 L105 465" fill="none" stroke="#000" stroke-width="2.13" stroke-linejoin="round" stroke-linecap="round"/>
<path d="M97.5 380 L102.5 390 L110 397.5 L118.8 400 L123.8 398.8 L128.8 393.8 L130 388.8 L137.5 383.8 L143.8 380 L151.2 383.8 L160 387 L166.2 382.5 L168.8 375 L180 376.2 L190 378 L192.5 371.2 L200 366.2 L205 361.2 L206.2 353.8 L211.2 345 L216.2 338.8 L220 335" fill="none" stroke="#000" stroke-width="2.13" stroke-linejoin="round" stroke-linecap="round"/>
<path d="M105 465 L111.2 463.8 L120 462.5 L130 465 L136.2 460 L141.2 456.2 L150 461.2 L156.2 455 L162.5 450.5 L172.5 448.8 L182.5 451.2 L192.5 447.5 L198.8 448.8 L200 453.8 L205 458.8 L212.5 456.2 L220 452.5" fill="none" stroke="#000" stroke-width="2.13" stroke-linejoin="round" stroke-linecap="round"/>
<path d="M105 465 L107.5 468.8 L112.5 475 L116.2 481.2 L118.8 485" fill="none" stroke="#000" stroke-width="2.13" stroke-linejoin="round" stroke-linecap="round"/>
<path d="M40.3 317.2 L42.8 318.7 L44.1 324.4 L47.9 328.2 L50.5 332.6 L55.6 333.3 L63.3 331.5 L67.2 334.6 L71 338.5 L76.2 339.2 L80 341.8 L79.2 347.4 L76.2 353.8 L74.9 359 L71 362.8 L72.3 367.9 L76.2 370.5 L82.6 370.5" fill="none" stroke="#000" stroke-width="1.988" stroke-linejoin="round" stroke-linecap="round"/>
<path d="M40.3 442.3 L44.1 446.2 L47.9 450" fill="none" stroke="#000" stroke-width="1.988" stroke-linejoin="round" stroke-linecap="round"/>
<path d="M40.8 252.1 L45.4 251.3 L51.8 253.1" fill="none" stroke="#000" stroke-width="3.408" stroke-linejoin="round" stroke-linecap="round"/>
<path d="M40.8 263.3 L44.1 262.3" fill="none" stroke="#000" stroke-width="3.408" stroke-linejoin="round" stroke-linecap="round"/>
<path d="M92.5 415 L87.5 415 L82.5 420 L78.8 426.2 L75 435 L77.5 442.5 L81.2 448.8 L80 456.2 L77.5 460 L81.2 462.5 L86.2 466.2 L91.2 465 L96.2 463.8 L105 465" fill="none" stroke="#000" stroke-width="1.846" stroke-linejoin="round" stroke-linecap="round"/>
<path d="M40 443.3 L50 448.3 L56.7 455 L63.3 463.3 L73.3 460.7 L80 463.3" fill="none" stroke="#000" stroke-width="1.988" stroke-linejoin="round" stroke-linecap="round"/>
<path d="M138.3 636.7 L145 633.3" fill="none" stroke="#000" stroke-width="3.124" stroke-linejoin="round" stroke-linecap="round"/>
<path d="M198.3 639.3 L203.3 640" fill="none" stroke="#000" stroke-width="3.124" stroke-linejoin="round" stroke-linecap="round"/>
<path d="M271.2 335 L277.5 336.2 L279.5 345 L278.8 355 L271.2 361.2 L276.2 367.5 L278.8 380" fill="none" stroke="#000" stroke-width="2.13" stroke-linejoin="round" stroke-linecap="round"/>
<path d="M278.8 380 L288 380.5 L288.8 392.5 L296.2 397 L306.2 400.5 L315 398 L321.2 396.2 L325 390.5 L332.5 389.5 L342.5 389.5 L350 392.5 L356.2 398.8 L363.8 396.2 L370 397" fill="none" stroke="#000" stroke-width="2.13" stroke-linejoin="round" stroke-linecap="round"/>
<path d="M278.8 380 L275 387.5 L270 395 L265 402.5 L261.2 405 L256.2 412.5 L250 420 L245 426.2 L247.5 433.8 L251.2 443.8 L252 447.5" fill="none" stroke="#000" stroke-width="2.13" stroke-linejoin="round" stroke-linecap="round"/>
<path d="M252 447.5 L251.2 456.2 L257.5 463.8 L258.8 470 L267.5 472 L278.8 473.8 L281.2 478.8 L284.5 485" fill="none" stroke="#000" stroke-width="2.13" stroke-linejoin="round" stroke-linecap="round"/>
<path d="M252 447.5 L243.8 455 L230 458.2 L223.8 455 L220 452.5" fill="none" stroke="#000" stroke-width="2.13" stroke-linejoin="round" stroke-linecap="round"/>
<path d="M370 397.5 L375 402.5 L376.2 407.5 L380 412.5 L383.8 414.5" fill="none" stroke="#000" stroke-width="2.13" stroke-linejoin="round" stroke-linecap="round"/>
<path d="M383.8 414.5 L386.2 412.5 L390 406.2 L395 402.5 L401.2 400.5 L405 396.2 L410 395 L415 400.5 L418.8 394.5 L422.5 395 L427.5 393.8 L430 388.8 L433.8 386.2 L436.2 382.5 L438.8 383.8 L442.5 378.8 L446.2 375 L453.8 374.5 L458.8 372.5 L463.8 370 L470 367 L477.5 363.8 L483.8 361.2 L482.5 357.5 L478.8 353.8 L481.2 350.5 L487.5 350 L492.5 355 L493.8 361.2 L497.5 366.2 L502.5 367.5 L503.8 363.8 L507.5 357.5 L511.2 350 L513.8 342.5 L515 335" fill="none" stroke="#000" stroke-width="2.13" stroke-linejoin="round" stroke-linecap="round"/>
<path d="M383.8 414.5 L381.2 420 L385 423.8 L388.8 428.8 L395 431.2 L396.2 437.5 L393.8 445 L391.2 451.2 L393.8 455 L398.8 460 L401.2 466.2 L405 472.5 L410 477 L416.2 478.8 L420 480 L423.8 485" fill="none" stroke="#000" stroke-width="2.13" stroke-linejoin="round" stroke-linecap="round"/>
<path d="M507.5 357.5 L512.5 356.2 L513.8 360 L511.2 363.8 L506.2 363" fill="none" stroke="#000" stroke-width="1.846" stroke-linejoin="round" stroke-linecap="round"/>
<path d="M473 457.5 L473.8 464.5" fill="none" stroke="#000" stroke-width="3.692" stroke-linejoin="round" stroke-linecap="round"/>
<path d="M511.7 351.7 L518.3 353.3 L526.7 355 L530 366.7 L540 370 L551.7 373.3 L560 376.7" fill="none" stroke="#000" stroke-width="1.988" stroke-linejoin="round" stroke-linecap="round"/>
<path d="M472.7 458.3 L473.3 464" fill="none" stroke="#000" stroke-width="3.408" stroke-linejoin="round" stroke-linecap="round"/>
<path d="M443.3 576.7 L445 582.7 L441.7 586" fill="none" stroke="#000" stroke-width="3.408" stroke-linejoin="round" stroke-linecap="round"/>
<path d="M455 578.3 L456 584" fill="none" stroke="#000" stroke-width="3.408" stroke-linejoin="round" stroke-linecap="round"/>
<path d="M435 582.7 L440 585" fill="none" stroke="#000" stroke-width="3.408" stroke-linejoin="round" stroke-linecap="round"/>
<path d="M436 588.3 L440.7 590.7" fill="none" stroke="#000" stroke-width="3.408" stroke-linejoin="round" stroke-linecap="round"/>
<path d="M556.7 283.3 L560 285.3" fill="none" stroke="#000" stroke-width="2.84" stroke-linejoin="round" stroke-linecap="round"/>
<path d="M118.8 485 L123.8 488 L132.5 487 L137.5 491.2 L145 490.5 L152.5 488.8 L158.8 492.5 L165 496.2 L175 497.5 L183.8 500.5 L191.2 503" fill="none" stroke="#000" stroke-width="2.13" stroke-linejoin="round" stroke-linecap="round"/>
<path d="M191.2 503 L187.5 510 L183.8 516.2 L178.8 521.2 L175 526.2 L172 532.5 L171.2 541.2 L168.8 550 L165 557.5 L162.5 565 L164.5 572.5 L162.5 580 L160.5 587.5 L160 595 L161.2 600 L165 601.2" fill="none" stroke="#000" stroke-width="2.13" stroke-linejoin="round" stroke-linecap="round"/>
<path d="M165 601.2 L170 602 L177.5 600.5 L185 601.2 L190 598.8 L196.2 600 L202.5 598.8 L201.2 593.8 L203.8 588.8 L208.8 586.2 L213.8 587.5 L215 591.2 L212.5 595 L207.5 596.2 L210 599.5 L216.2 595 L220 593.8" fill="none" stroke="#000" stroke-width="2.13" stroke-linejoin="round" stroke-linecap="round"/>
<path d="M165 601.2 L158.8 607.5 L152.5 611.2 L145 609.5 L142.5 607 L136.2 606.2 L133.8 610 L132.5 613.8 L128.8 616.2 L131.2 620 L137.5 618.8 L132.5 625 L127.5 630 L122.5 635" fill="none" stroke="#000" stroke-width="1.988" stroke-linejoin="round" stroke-linecap="round"/>
<path d="M206.2 616.2 L210 621.2 L215 623.8 L220 625" fill="none" stroke="#000" stroke-width="3.408" stroke-linejoin="round" stroke-linecap="round"/>
<path d="M187.5 630 L190 632.5" fill="none" stroke="#000" stroke-width="3.692" stroke-linejoin="round" stroke-linecap="round"/>
<path d="M203.8 629.5 L205 632.5" fill="none" stroke="#000" stroke-width="3.692" stroke-linejoin="round" stroke-linecap="round"/>
<path d="M283.8 485 L287.5 492.5 L292.5 502.5 L297.5 512.5 L295 520 L291.2 530 L293.8 535 L294.5 537.5 L288.8 540 L286.2 547.5 L281.2 557.5 L276.2 567.5 L271.2 576.2 L267.5 583.8 L260.5 584.5 L260 592.5 L261.2 600 L257.5 602.5" fill="none" stroke="#000" stroke-width="2.13" stroke-linejoin="round" stroke-linecap="round"/>
<path d="M220 593.8 L225 595 L228.8 592.5 L235 595 L240 598.8 L247.5 602.5 L255 604.5 L257.5 602.5" fill="none" stroke="#000" stroke-width="2.13" stroke-linejoin="round" stroke-linecap="round"/>
<path d="M230 585 L235 587.5 L241.2 591.2 L247.5 596.2 L253.8 601.2" fill="none" stroke="#000" stroke-width="3.408" stroke-linejoin="round" stroke-linecap="round"/>
<path d="M257.5 602.5 L263.8 600 L268.8 602.5 L273.8 606.2 L277.5 608.8 L282.5 610 L281.2 613.8 L283.8 616.2 L288.8 615 L287.5 620 L283.8 622 L291.2 618.8 L296.2 613.8 L298 607.5 L297.5 601.2 L302.5 602.5 L308.8 601.2 L310 597.5 L312.5 597.5 L311.2 601.2 L316.2 603.8 L320 607.5 L322.5 612.5 L327.5 613.8 L333.8 612.5 L340 608.8 L345 606.2 L350 603.8 L355 600.5 L362.5 600 L370 598.8" fill="none" stroke="#000" stroke-width="2.13" stroke-linejoin="round" stroke-linecap="round"/>
<path d="M257.5 602.5 L260 608.8 L258.8 615 L255 620 L252.5 625 L255 631.2 L258.8 635" fill="none" stroke="#000" stroke-width="1.988" stroke-linejoin="round" stroke-linecap="round"/>
<path d="M338.8 599.5 L342 600.5" fill="none" stroke="#000" stroke-width="3.976" stroke-linejoin="round" stroke-linecap="round"/>
<path d="M220 626.2 L226.2 627" fill="none" stroke="#000" stroke-width="3.408" stroke-linejoin="round" stroke-linecap="round"/>
<path d="M235 632.5 L243.8 633" fill="none" stroke="#000" stroke-width="3.408" stroke-linejoin="round" stroke-linecap="round"/>
<path d="M423.8 485 L428.8 490 L433.8 496.2 L440 500 L445 505 L451.2 508.8 L455 513.8 L457.5 518.8 L457 525" fill="none" stroke="#000" stroke-width="2.13" stroke-linejoin="round" stroke-linecap="round"/>
<path d="M457 525 L455 530 L448.8 533.8 L443.8 532 L439.5 533.8 L438 538.8 L437.5 545 L432.5 548.8 L423.8 550.5 L416.2 553.8 L410 558.8 L407 563.8 L410 568.8 L413.8 573.8 L417.5 581.2 L416.2 587.5 L418 591.2 L422.5 595 L423 601.2 L420 607 L416.2 608.8 L412.5 607 L408.8 602.5 L410 596.2 L405 593 L397.5 593.8 L390 592.5 L383.8 593.8 L381.2 591.2 L380 595 L377.5 598.8 L370 598.8" fill="none" stroke="#000" stroke-width="2.13" stroke-linejoin="round" stroke-linecap="round"/>
<path d="M457 525 L461.2 518.8 L466.2 517 L470 522.5 L475 526.2 L481.2 530 L486.2 526.2 L492.5 528 L498.8 530 L500 522.5 L505 516.2 L511.2 515 L512.5 507.5 L513.8 500 L520 500.5 L526.8 501.8 L540 508.2 L551.8 510 L560 515" fill="none" stroke="#000" stroke-width="1.988" stroke-linejoin="round" stroke-linecap="round"/>
<path d="M465 516.2 L470 520.5 L473 525" fill="none" stroke="#000" stroke-width="3.692" stroke-linejoin="round" stroke-linecap="round"/>
<path d="M470 517.5 L468.8 523.8" fill="none" stroke="#000" stroke-width="3.124" stroke-linejoin="round" stroke-linecap="round"/>
<path d="M405.5 573 L408 576.2" fill="none" stroke="#000" stroke-width="3.976" stroke-linejoin="round" stroke-linecap="round"/>
<path d="M426.2 70 L430 72.5 L428.8 76.2 L432.5 77.5 L436.2 75 L438.8 78.8 L435.5 82.5 L440 85" fill="none" stroke="#000" stroke-width="2.982" stroke-linejoin="round" stroke-linecap="round"/>
<path d="M445 76.2 L442.5 80 L446.2 82.5 L449.5 86.2 L452.5 91.2" fill="none" stroke="#000" stroke-width="2.982" stroke-linejoin="round" stroke-linecap="round"/>
<path d="M423.8 82.5 L428.8 85 L432.5 88.8 L430 93.8 L433.8 97.5 L438.8 98.8" fill="none" stroke="#000" stroke-width="2.982" stroke-linejoin="round" stroke-linecap="round"/>
<path d="M461.2 116.2 L463.8 120 L461.2 123.8 L466.2 126.2 L465 131.2 L470 131.2" fill="none" stroke="#000" stroke-width="2.982" stroke-linejoin="round" stroke-linecap="round"/>
<path d="M491.2 131.2 L495 128.8 L498.8 121.2" fill="none" stroke="#000" stroke-width="2.556" stroke-linejoin="round" stroke-linecap="round"/>
<path d="M350 641.7 L360 638.3 L375 635 L380.7 636.7 L376.7 640.7" fill="none" stroke="#000" stroke-width="1.988" stroke-linejoin="round" stroke-linecap="round"/>
<path d="M260 636.7 L266.7 638.7 L270.7 641.7" fill="none" stroke="#000" stroke-width="1.988" stroke-linejoin="round" stroke-linecap="round"/>
<path d="M211.7 46.7 L216.7 56.7 L223.3 66.7 L230 80 L227.3 89.3 L220 87.3 L211.7 91.7 L209.3 100 L212.7 109.3 L220 105 L227.3 110 L225 120 L230 126.7 L236.7 125" fill="none" stroke="#000" stroke-width="2.13" stroke-linejoin="round" stroke-linecap="round"/>
<path d="M47.7 170.8 L49.3 168.3 L57.7 165.8 L67.7 163.7 L69.3 163.3 L77.7 162.5 L86 163 L84.3 164.7 L74.3 165.3 L69.3 164.7 L59.3 167.5 L51 170.8 L48.5 172.5Z" fill="none" stroke="#000" stroke-width="1.988" stroke-linejoin="round"/>
<path d="M92.7 161.7 L102.7 159.7 L103.5 161.3 L94.3 163.7Z" fill="none" stroke="#000" stroke-width="2.272" stroke-linejoin="round"/>
<path d="M76 207.5 L79.3 206.7 L80.7 208.3 L77.7 209.2Z" fill="none" stroke="#000" stroke-width="2.13" stroke-linejoin="round"/>
<path d="M45.2 250.8 L49.3 251.2 L52.3 252.5 L48.5 253.7Z" fill="none" stroke="#000" stroke-width="2.13" stroke-linejoin="round"/>
<path d="M201.2 60 L206.2 58.8 L209.5 62 L207 65 L202 64.5Z" fill="none" stroke="#000" stroke-width="2.13" stroke-linejoin="round"/>
<path d="M196.2 66.2 L198.8 63.8 L200 67.5 L198 70.5Z" fill="none" stroke="#000" stroke-width="2.13" stroke-linejoin="round"/>
<path d="M210 76.2 L215 75 L216.2 78.8 L212.5 81.2 L209.5 79.5Z" fill="none" stroke="#000" stroke-width="2.13" stroke-linejoin="round"/>
<path d="M209.5 88.8 L215 87.5 L220 88.8 L220 97.5 L213.8 98.8 L210 95Z" fill="none" stroke="#000" stroke-width="2.13" stroke-linejoin="round"/>
<path d="M260 46.2 L265 42.5 L271.2 40.5 L278.8 43.8 L280.5 48.8 L276.2 51.2 L270 48.8 L265 50Z" fill="none" stroke="#000" stroke-width="2.13" stroke-linejoin="round"/>
<path d="M323.8 82.5 L325 78 L331.2 77 L335.5 81.2 L337.5 86.2 L332.5 88 L327.5 86.2Z" fill="none" stroke="#000" stroke-width="2.13" stroke-linejoin="round"/>
<path d="M292.5 109 L297.5 108 L296.2 112.5Z" fill="none" stroke="#000" stroke-width="2.84" stroke-linejoin="round"/>
<path d="M345 138 L347.5 137.5 L348 145 L346.2 151.2 L344.2 150 L344.5 145Z" fill="none" stroke="#000" stroke-width="2.84" stroke-linejoin="round"/>
<path d="M423.8 72.5 L427.5 76.2 L431.2 75 L433.8 78.8 L430 81.2 L426.2 80Z" fill="none" stroke="#000" stroke-width="2.982" stroke-linejoin="round"/>
<path d="M408.8 137.5 L412.5 132.5 L415 133.8 L411.2 138.8Z" fill="none" stroke="#000" stroke-width="2.13" stroke-linejoin="round"/>
<path d="M392.5 160 L397.5 158.8 L402.5 161.2 L407.5 165 L408.8 170 L405 173.8 L401.2 170 L400 165 L395 162.5Z" fill="none" stroke="#000" stroke-width="2.13" stroke-linejoin="round"/>
<path d="M495 158.8 L498 157.5 L498.8 163.8 L496.2 167.5 L494.5 165Z" fill="none" stroke="#000" stroke-width="2.13" stroke-linejoin="round"/>
<path d="M507 172.5 L509 173 L508.2 181.2 L506.2 182.5 L505.8 177.5Z" fill="none" stroke="#000" stroke-width="2.13" stroke-linejoin="round"/>
<path d="M196.2 236.2 L198 235 L199 237.5 L197.5 239.5Z" fill="none" stroke="#000" stroke-width="2.556" stroke-linejoin="round"/>
<path d="M75.5 207 L79.5 206.5 L80 209 L76.2 209.5Z" fill="none" stroke="#000" stroke-width="2.13" stroke-linejoin="round"/>
<path d="M242.5 241.2 L246.2 238.8 L248 240.5 L244.5 243Z" fill="none" stroke="#000" stroke-width="2.556" stroke-linejoin="round"/>
<path d="M328.8 567 L330 572.5 L331.2 575 L329.5 575.5 L328 571.2Z" fill="none" stroke="#000" stroke-width="2.556" stroke-linejoin="round"/>
<path d="M339.5 572.5 L338.8 578.8 L337 583.8 L335.5 581.2 L337 576.2Z" fill="none" stroke="#000" stroke-width="2.556" stroke-linejoin="round"/>
<path d="M388.8 579.5 L392.5 577 L396.2 578 L395 581.2 L390.5 582.5Z" fill="none" stroke="#000" stroke-width="2.556" stroke-linejoin="round"/>
<circle cx="374.3" cy="105.7" r="4.55" fill="#ff0000" stroke="#000" stroke-width="1.4"/>
<circle cx="275.7" cy="149.7" r="4.55" fill="#ff0000" stroke="#000" stroke-width="1.4"/>
<circle cx="220" cy="195.7" r="4.55" fill="#ff0000" stroke="#000" stroke-width="1.4"/>
<circle cx="260.7" cy="241" r="4.55" fill="#ff0000" stroke="#000" stroke-width="1.4"/>
<circle cx="432.7" cy="242" r="4.55" fill="#ff0000" stroke="#000" stroke-width="1.4"/>
<circle cx="350.7" cy="269.7" r="4.55" fill="#ff0000" stroke="#000" stroke-width="1.4"/>
<circle cx="480.7" cy="293.7" r="4.55" fill="#ff0000" stroke="#000" stroke-width="1.4"/>
<circle cx="146.7" cy="317" r="4.55" fill="#ff0000" stroke="#000" stroke-width="1.4"/>
<circle cx="273.7" cy="315.7" r="4.55" fill="#ff0000" stroke="#000" stroke-width="1.4"/>
<circle cx="391.7" cy="328.7" r="4.55" fill="#ff0000" stroke="#000" stroke-width="1.4"/>
<circle cx="453.7" cy="344" r="4.55" fill="#ff0000" stroke="#000" stroke-width="1.4"/>
<circle cx="321.7" cy="355" r="4.55" fill="#ff0000" stroke="#000" stroke-width="1.4"/>
<circle cx="209.7" cy="423.7" r="4.55" fill="#ff0000" stroke="#000" stroke-width="1.4"/>
<circle cx="325.7" cy="463.7" r="4.55" fill="#ff0000" stroke="#000" stroke-width="1.4"/>
<circle cx="238.8" cy="512.7" r="4.55" fill="#ff0000" stroke="#000" stroke-width="1.4"/>
<circle cx="348.7" cy="560" r="4.55" fill="#ff0000" stroke="#000" stroke-width="1.4"/>
<circle cx="173.7" cy="569.7" r="4.55" fill="#ff0000" stroke="#000" stroke-width="1.4"/>
<text x="375.9" y="105.5" font-size="13.1">Rostock</text>
<text x="277.3" y="149.5" font-size="13.1">Hamburg</text>
<text x="220.8" y="195.5" font-size="13.1">Bremen</text>
<text x="262.3" y="240.8" font-size="13.1">Hannover</text>
<text x="434.3" y="241.8" font-size="13.1">Berlin</text>
<text x="352.3" y="269.5" font-size="13.1">Magdeburg</text>
<text x="481.4" y="293.5" font-size="13.1">Cottbus</text>
<text x="148.3" y="316.8" font-size="13.1">Bochum</text>
<text x="275.3" y="315.5" font-size="13.1">Goettingen</text>
<text x="393.3" y="328.5" font-size="13.1">Leipzig</text>
<text x="455.3" y="343.8" font-size="13.1">Dresden</text>
<text x="323.3" y="354.8" font-size="13.1">Erfurt</text>
<text x="211.3" y="423.5" font-size="13.1">Frankfurt-Main</text>
<text x="327.3" y="463.5" font-size="13.1">Nuernberg</text>
<text x="240.4" y="512.5" font-size="13.1">Stuttgart</text>
<text x="350.3" y="559.8" font-size="13.1">Muenchen</text>
<text x="174.7" y="569.5" font-size="13.1">Freiburg</text>
<rect x="58" y="59" width="91" height="31.3" fill="#d3d3d3" fill-opacity="0.5" stroke="#000" stroke-opacity="0.5" stroke-width="1.5"/>
<text x="64.8" y="80.6" font-size="18.5">&#8709;</text>
<text x="86.6" y="80.3" font-size="20">318.0</text>
</g>
<rect x="40" y="39" width="520" height="602.6" fill="none" stroke="#000" stroke-width="1.7"/>
<text x="300" y="30.2" font-size="26.5" text-anchor="middle">1971-1971 (ja)</text>
<path d="M64.3 672 L40.3 686.95 L64.3 701.9Z" fill="#fff"/>
<path d="M536.6 672 L559.8 686.95 L536.6 701.9Z" fill="#000"/>
<rect x="64.3" y="672" width="52.78" height="29.9" fill="#f4f4c7"/>
<rect x="116.78" y="672" width="52.78" height="29.9" fill="#e6d95f"/>
<rect x="169.26" y="672" width="52.78" height="29.9" fill="#e6b114"/>
<rect x="221.73" y="672" width="52.78" height="29.9" fill="#e87904"/>
<rect x="274.21" y="672" width="52.78" height="29.9" fill="#fd4028"/>
<rect x="326.69" y="672" width="52.78" height="29.9" fill="#a43476"/>
<rect x="379.17" y="672" width="52.78" height="29.9" fill="#5e29b1"/>
<rect x="431.64" y="672" width="52.78" height="29.9" fill="#322694"/>
<rect x="484.12" y="672" width="52.78" height="29.9" fill="#111138"/>
<line x1="64.3" y1="672" x2="64.3" y2="701.9" stroke="#000" stroke-width="1"/>
<line x1="116.78" y1="672" x2="116.78" y2="701.9" stroke="#000" stroke-width="1"/>
<line x1="169.26" y1="672" x2="169.26" y2="701.9" stroke="#000" stroke-width="1"/>
<line x1="221.73" y1="672" x2="221.73" y2="701.9" stroke="#000" stroke-width="1"/>
<line x1="274.21" y1="672" x2="274.21" y2="701.9" stroke="#000" stroke-width="1"/>
<line x1="326.69" y1="672" x2="326.69" y2="701.9" stroke="#000" stroke-width="1"/>
<line x1="379.17" y1="672" x2="379.17" y2="701.9" stroke="#000" stroke-width="1"/>
<line x1="431.64" y1="672" x2="431.64" y2="701.9" stroke="#000" stroke-width="1"/>
<line x1="484.12" y1="672" x2="484.12" y2="701.9" stroke="#000" stroke-width="1"/>
<line x1="536.6" y1="672" x2="536.6" y2="701.9" stroke="#000" stroke-width="1"/>
<path d="M64.3 672 L40.3 686.95 L64.3 701.9 L536.6 701.9 L559.8 686.95 L536.6 672Z" fill="none" stroke="#000" stroke-width="1.8" stroke-linejoin="miter"/>
<text x="63.7" y="723" font-size="19.4" text-anchor="middle">260</text>
<text x="116.18" y="723" font-size="19.4" text-anchor="middle">270</text>
<text x="168.66" y="723" font-size="19.4" text-anchor="middle">280</text>
<text x="221.13" y="723" font-size="19.4" text-anchor="middle">290</text>
<text x="273.61" y="723" font-size="19.4" text-anchor="middle">300</text>
<text x="326.09" y="723" font-size="19.4" text-anchor="middle">310</text>
<text x="378.57" y="723" font-size="19.4" text-anchor="middle">320</text>
<text x="431.04" y="723" font-size="19.4" text-anchor="middle">330</text>
<text x="483.52" y="723" font-size="19.4" text-anchor="middle">340</text>
<text x="536" y="723" font-size="19.4" text-anchor="middle">350</text>
<text x="299.5" y="753" font-size="23.3" text-anchor="middle">dbsch1 [d]</text>
</svg></body></html>
